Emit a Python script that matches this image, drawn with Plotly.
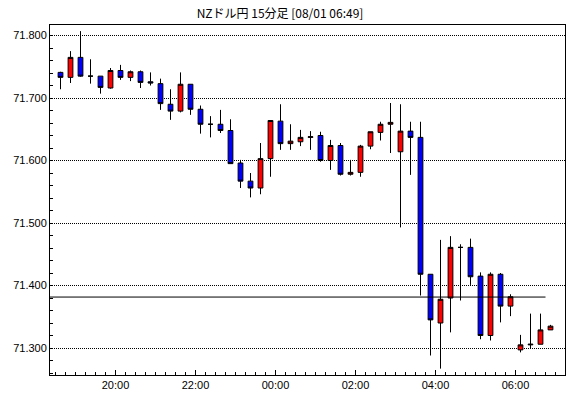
import pandas as pd
import plotly.graph_objects as go

title_text = "NZドル円 15分足 [08/01 06:49]"
first_bar = "2019-07-31 18:30"
bar_minutes = 15

open_ = [71.741, 71.733, 71.765, 71.735, 71.735, 71.716, 71.744, 71.733, 71.742, 71.726,
         71.723, 71.690, 71.679, 71.722, 71.682, 71.658, 71.658, 71.648, 71.596, 71.567,
         71.556, 71.603, 71.663, 71.627, 71.630, 71.637, 71.640, 71.600, 71.624, 71.578,
         71.581, 71.623, 71.645, 71.658, 71.614, 71.647, 71.637, 71.418, 71.340, 71.380,
         71.461, 71.461, 71.415, 71.320, 71.418, 71.367, 71.297, 71.305, 71.306, 71.329]
high = [71.742, 71.775, 71.807, 71.762, 71.735, 71.748, 71.753, 71.744, 71.744, 71.741,
        71.731, 71.714, 71.741, 71.722, 71.688, 71.671, 71.681, 71.666, 71.601, 71.580,
        71.628, 71.664, 71.690, 71.658, 71.649, 71.647, 71.646, 71.633, 71.628, 71.601,
        71.625, 71.646, 71.662, 71.692, 71.690, 71.662, 71.662, 71.418, 71.473, 71.479,
        71.466, 71.475, 71.421, 71.421, 71.420, 71.386, 71.321, 71.355, 71.355, 71.337]
low = [71.714, 71.724, 71.734, 71.723, 71.707, 71.715, 71.729, 71.727, 71.716, 71.720,
       71.681, 71.665, 71.677, 71.673, 71.643, 71.637, 71.644, 71.595, 71.556, 71.541,
       71.546, 71.574, 71.617, 71.617, 71.623, 71.617, 71.598, 71.585, 71.576, 71.576,
       71.574, 71.618, 71.632, 71.612, 71.493, 71.577, 71.384, 71.288, 71.267, 71.325,
       71.376, 71.401, 71.314, 71.312, 71.341, 71.351, 71.293, 71.300, 71.306, 71.329]
close = [71.733, 71.765, 71.735, 71.735, 71.717, 71.744, 71.733, 71.742, 71.725, 71.724,
         71.691, 71.679, 71.722, 71.682, 71.658, 71.658, 71.648, 71.595, 71.567, 71.556,
         71.603, 71.664, 71.627, 71.631, 71.637, 71.638, 71.600, 71.624, 71.578, 71.581,
         71.623, 71.646, 71.658, 71.661, 71.647, 71.637, 71.418, 71.345, 71.378, 71.461,
         71.461, 71.414, 71.320, 71.418, 71.367, 71.382, 71.305, 71.306, 71.329, 71.335]

prev_close = 71.3815
prev_close_end = "2019-08-01 06:45"
x_range = ["2019-07-31 18:21:45", "2019-08-01 07:14:15"]
y_range = [71.2568, 71.8168]
y_ticks = [71.3, 71.4, 71.5, 71.6, 71.7, 71.8]

bar_start = pd.date_range(first_bar, periods=len(open_), freq=f"{bar_minutes}min")
x = bar_start + pd.Timedelta(minutes=bar_minutes / 2)

fig = go.Figure()
fig.add_trace(go.Candlestick(
    x=x, open=open_, high=high, low=low, close=close,
    increasing=dict(line=dict(color="black", width=1), fillcolor="#ff0000"),
    decreasing=dict(line=dict(color="black", width=1), fillcolor="#0000ff"),
    whiskerwidth=0, showlegend=False, hoverinfo="skip",
))

fig.add_shape(type="line", xref="x", yref="y",
              x0=x_range[0], x1=prev_close_end, y0=prev_close, y1=prev_close,
              line=dict(color="black", width=1))

font = dict(family="Liberation Sans, Arial, sans-serif", size=11, color="black")

x_common = dict(
    type="date", range=x_range, showgrid=False, zeroline=False,
    ticks="inside", ticklen=5, tickcolor="black", tickwidth=1,
    tick0="2019-07-31 00:00", dtick=2 * 3600 * 1000, tickformat="%H:%M",
    tickfont=font,
    minor=dict(dtick=bar_minutes * 60 * 1000, ticks="inside", ticklen=3,
               tickcolor="black", tickwidth=1, showgrid=False),
)
y_common = dict(
    range=y_range, tickmode="array", tickvals=y_ticks,
    ticktext=[f"{v:.3f}" for v in y_ticks], zeroline=False,
    ticks="inside", ticklen=3, tickcolor="black", tickwidth=1,
    tickfont=font,
    minor=dict(tickmode="linear", tick0=71.3, dtick=0.02, ticks="inside", ticklen=3,
               tickcolor="black", tickwidth=1, showgrid=False),
)

fig.update_layout(
    width=570, height=398,
    margin=dict(l=50, r=5, t=25, b=23, pad=0),
    paper_bgcolor="white", plot_bgcolor="white",
    boxgap=0.32,
    title=dict(text=title_text, x=280 / 570, xref="container", xanchor="center",
               y=1 - 14 / 398, yref="container", yanchor="middle",
               font=dict(family="Noto Sans CJK JP, sans-serif", size=12, color="black")),
    xaxis=dict(**x_common, rangeslider=dict(visible=False),
               showline=True, linecolor="black", linewidth=1, mirror=True),
    xaxis2=dict(**x_common, overlaying="x", side="top", showticklabels=False,
                showline=False),
    yaxis=dict(**y_common, showgrid=True, gridcolor="black", gridwidth=1,
               griddash="1px,1px",
               showline=True, linecolor="black", linewidth=1, mirror=True),
    yaxis2=dict(**y_common, overlaying="y", side="right", showticklabels=False,
                showgrid=False, showline=False),
)

fig.write_html("out.html")
